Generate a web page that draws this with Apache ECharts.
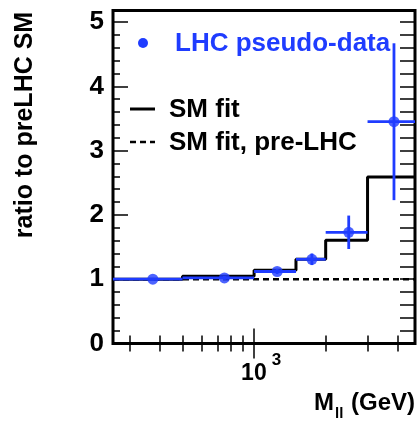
<!DOCTYPE html>
<html>
<head>
<meta charset="utf-8">
<script src="https://cdn.jsdelivr.net/npm/echarts@6/dist/echarts.min.js"></script>
<style>
  html, body { margin: 0; padding: 0; background: #fff; }
  #chart { width: 420px; height: 422px; }
</style>
</head>
<body>
<div id="chart"></div>
<script>
// bins of the SM fit (GeV) and fitted ratio per bin
var binEdges = [255, 500, 1000, 1500, 2000, 3000, 4750];
var smFit = [1.0, 1.045, 1.14, 1.31, 1.605, 2.59];
var preLhc = 1.0;

// LHC pseudo-data
var dataX = [375, 750, 1250, 1750, 2500, 3875];
var dataY = [1.0, 1.02, 1.12, 1.31, 1.73, 3.45];
var dataErr = [0.02, 0.03, 0.04, 0.09, 0.26, 1.22];

// ticks
var xMajorTicks = [1000];
var xMinorTicks = [300, 400, 500, 600, 700, 800, 900, 2000, 3000, 4000];
var yMajorTicks = [0, 1, 2, 3, 4, 5];
var yMinorTicks = [0.2, 0.4, 0.6, 0.8, 1.2, 1.4, 1.6, 1.8, 2.2, 2.4, 2.6, 2.8,
                   3.2, 3.4, 3.6, 3.8, 4.2, 4.4, 4.6, 4.8];

var FONT = '"Liberation Sans", Arial, Helvetica, sans-serif';
var BLUE = '#1f3cff';
var xMin = binEdges[0], xMax = binEdges[binEdges.length - 1];
var yMax = 5.18;

var chart = echarts.init(document.getElementById('chart'));

function xAxisDef(pos, ticks, len, labels) {
    return {
        type: 'log', logBase: 10, min: xMin, max: xMax, position: pos,
        axisLine: { show: false },
        splitLine: { show: false },
        axisTick: { show: true, inside: true, length: len, customValues: ticks,
                    lineStyle: { color: '#000', width: 1.5 } },
        axisLabel: labels ? {
            show: true, customValues: ticks, margin: 8,
            padding: [0, 0, 0, 14],
            formatter: function (v) {
                return '{b|10}{s|' + Math.round(Math.log10(v)) + '}';
            },
            rich: {
                b: { fontSize: 23, fontWeight: 'bold', fontFamily: FONT, color: '#000',
                     lineHeight: 34, verticalAlign: 'bottom' },
                s: { fontSize: 17, fontWeight: 'bold', fontFamily: FONT, color: '#000',
                     lineHeight: 34, verticalAlign: 'top', padding: [0, 0, 0, 5] }
            }
        } : { show: false }
    };
}

function yAxisDef(pos, ticks, len, labels) {
    return {
        type: 'value', min: 0, max: yMax, position: pos,
        axisLine: { show: false },
        splitLine: { show: false },
        axisTick: { show: true, inside: true, length: len, customValues: ticks,
                    lineStyle: { color: '#000', width: 1.5 } },
        axisLabel: labels ? {
            show: true, customValues: ticks, margin: 9,
            fontSize: 26, fontWeight: 'bold', fontFamily: FONT, color: '#000'
        } : { show: false }
    };
}

// step line points: each bin starts at its lower edge, last point closes the final bin
var stepData = [];
for (var i = 0; i < smFit.length; i++) stepData.push([binEdges[i], smFit[i]]);
stepData.push([xMax, smFit[smFit.length - 1]]);

var errData = [];
for (var j = 0; j < dataX.length; j++) {
    errData.push([dataX[j], dataY[j], binEdges[j], binEdges[j + 1],
                  dataY[j] - dataErr[j], dataY[j] + dataErr[j]]);
}
var pointData = dataX.map(function (x, k) { return [x, dataY[k]]; });

var option = {
    backgroundColor: '#fff',
    animation: false,
    grid: {
        left: 113, right: 5, top: 10.5, bottom: 78.5,
        show: true, borderColor: '#000', borderWidth: 3, backgroundColor: 'transparent'
    },
    xAxis: [
        xAxisDef('bottom', xMajorTicks, 15, true),
        xAxisDef('bottom', xMinorTicks, 8, false),
        xAxisDef('top', xMajorTicks, 15, false),
        xAxisDef('top', xMinorTicks, 8, false)
    ],
    yAxis: [
        yAxisDef('left', yMajorTicks, 15, true),
        yAxisDef('left', yMinorTicks, 7, false),
        yAxisDef('right', yMajorTicks, 15, false),
        yAxisDef('right', yMinorTicks, 15, false)
    ],
    series: [
        {
            name: 'SM fit, pre-LHC',
            type: 'line',
            data: [[xMin, preLhc], [xMax, preLhc]],
            showSymbol: false,
            lineStyle: { color: '#000', width: 2.5, type: [6, 4] },
            z: 2
        },
        {
            name: 'SM fit',
            type: 'line',
            step: 'end',
            data: stepData,
            showSymbol: false,
            lineStyle: { color: '#000', width: 3 },
            z: 3
        },
        {
            name: 'errors',
            type: 'custom',
            data: errData,
            encode: { x: 0, y: 1 },
            renderItem: function (params, api) {
                var y = api.value(1);
                var a = api.coord([api.value(2), y]);
                var b = api.coord([api.value(3), y]);
                var c = api.coord([api.value(0), api.value(4)]);
                var d = api.coord([api.value(0), api.value(5)]);
                var st = { stroke: BLUE, lineWidth: 2.8 };
                return {
                    type: 'group',
                    children: [
                        { type: 'line', shape: { x1: a[0], y1: a[1], x2: b[0], y2: b[1] }, style: st },
                        { type: 'line', shape: { x1: c[0], y1: c[1], x2: d[0], y2: d[1] }, style: st }
                    ]
                };
            },
            z: 4
        },
        {
            name: 'LHC pseudo-data',
            type: 'scatter',
            data: pointData,
            symbol: 'circle',
            symbolSize: 11,
            itemStyle: { color: BLUE },
            z: 5
        }
    ],
    graphic: [
        // legend
        { type: 'circle', shape: { cx: 143, cy: 43, r: 5 }, style: { fill: BLUE }, z: 10 },
        { type: 'text', x: 175, y: 44, z: 10,
          style: { text: 'LHC pseudo-data', fill: BLUE, font: 'bold 26px ' + FONT,
                   textVerticalAlign: 'middle' } },
        { type: 'line', shape: { x1: 130, y1: 109, x2: 155, y2: 109 },
          style: { stroke: '#000', lineWidth: 3 }, z: 10 },
        { type: 'text', x: 169, y: 110, z: 10,
          style: { text: 'SM fit', fill: '#000', font: 'bold 26px ' + FONT,
                   textVerticalAlign: 'middle' } },
        { type: 'line', shape: { x1: 130, y1: 142, x2: 155, y2: 142 },
          style: { stroke: '#000', lineWidth: 2.5, lineDash: [6, 4] }, z: 10 },
        { type: 'text', x: 169, y: 143, z: 10,
          style: { text: 'SM fit, pre-LHC', fill: '#000', font: 'bold 26px ' + FONT,
                   textVerticalAlign: 'middle' } },
        // axis titles
        { type: 'text', x: 25, y: 125, rotation: Math.PI / 2, z: 10,
          style: { text: 'ratio to preLHC SM', fill: '#000', font: 'bold 25px ' + FONT,
                   textAlign: 'center', textVerticalAlign: 'middle' } },
        { type: 'text', right: 5, top: 391, z: 10,
          style: {
              text: '{m|M}{s|ll}{m| (GeV)}',
              rich: {
                  m: { fontSize: 24, fontWeight: 'bold', fontFamily: FONT, fill: '#000',
                       lineHeight: 30, verticalAlign: 'top' },
                  s: { fontSize: 15, fontWeight: 'bold', fontFamily: FONT, fill: '#000',
                       lineHeight: 30, verticalAlign: 'bottom', padding: [0, 1, 0, 1] }
              }
          } }
    ]
};
chart.setOption(option);
</script>
</body>
</html>
